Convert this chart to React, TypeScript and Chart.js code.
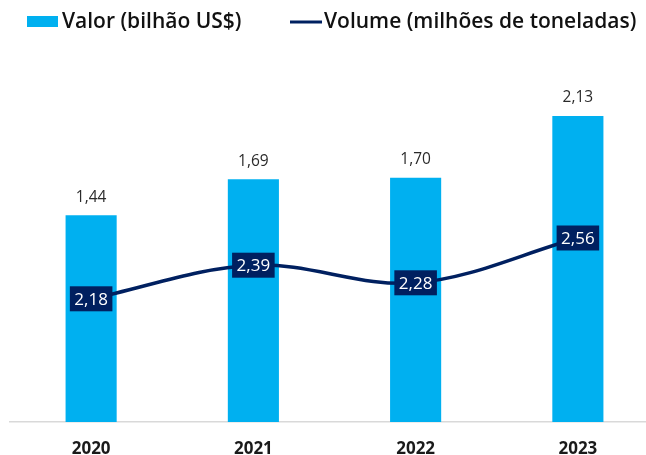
import React, { useEffect, useRef } from "react";
import { Chart, registerables } from "chart.js";
Chart.register(...registerables);

const years = ["2020", "2021", "2022", "2023"];
const valor = [1.44, 1.69, 1.7, 2.13];
const volume = [2.18, 2.39, 2.28, 2.56];
const legendLabels = ["Valor (bilhão US$)", "Volume (milhões de toneladas)"];

const BLUE = "#00B0F0";
const NAVY = "#002060";
const FONT = "'Open Sans', sans-serif";
const fmt = (v: number) => v.toFixed(2).replace(".", ",");

const labelsPlugin = {
  id: "customLabels",
  afterDatasetsDraw(chart: any) {
    const ctx = chart.ctx;
    ctx.save();
    ctx.textAlign = "center";
    ctx.textBaseline = "middle";
    // bar value labels
    ctx.font = `15.5px ${FONT}`;
    ctx.fillStyle = "#2a2a2a";
    chart.getDatasetMeta(0).data.forEach((el: any, i: number) => {
      ctx.fillText(fmt(valor[i]), el.x, el.y - 18);
    });
    // line value labels in boxes
    ctx.font = `17px ${FONT}`;
    chart.getDatasetMeta(1).data.forEach((el: any, i: number) => {
      const t = fmt(volume[i]);
      const w = ctx.measureText(t).width + 9;
      const h = 25;
      ctx.fillStyle = NAVY;
      ctx.fillRect(el.x - w / 2, el.y - h / 2, w, h);
      ctx.fillStyle = "#ffffff";
      ctx.fillText(t, el.x, el.y + 1);
    });
    // legend
    ctx.textAlign = "left";
    ctx.font = `600 21px ${FONT}`;
    ctx.fillStyle = BLUE;
    ctx.fillRect(27, 16, 31, 11);
    ctx.fillStyle = "#111111";
    ctx.fillText(legendLabels[0], 62, 22);
    ctx.strokeStyle = NAVY;
    ctx.lineWidth = 3;
    ctx.beginPath();
    ctx.moveTo(290, 22);
    ctx.lineTo(322, 22);
    ctx.stroke();
    ctx.fillText(legendLabels[1], 324, 22);
    ctx.restore();
  },
};

export default function App() {
  const ref = useRef<HTMLCanvasElement>(null);
  useEffect(() => {
    if (!ref.current) return;
    const chart = new Chart(ref.current, {
      type: "bar",
      data: {
        labels: years,
        datasets: [
          {
            type: "bar",
            label: legendLabels[0],
            data: valor,
            backgroundColor: BLUE,
            yAxisID: "y",
            barPercentage: 0.63,
            categoryPercentage: 0.5,
            order: 1,
          },
          {
            type: "line",
            label: legendLabels[1],
            data: volume,
            borderColor: NAVY,
            backgroundColor: NAVY,
            borderWidth: 3.5,
            pointRadius: 0,
            tension: 0.35,
            yAxisID: "y1",
            order: 0,
          },
        ],
      },
      options: {
        responsive: false,
        animation: false,
        layout: { padding: { left: 10, right: 1, top: 50, bottom: 0 } },
        plugins: { legend: { display: false }, tooltip: { enabled: false } },
        scales: {
          x: {
            grid: { display: false },
            border: { display: true, color: "#d9d9d9", width: 1.5 },
            ticks: {
              color: "#1a1a1a",
              font: { family: "'Open Sans', sans-serif", size: 17, weight: "bold" },
              padding: 9,
            },
            afterFit: (s: any) => {
              s.height = 33;
            },
          },
          y: { display: false, min: 0, max: 2.59 },
          y1: { display: false, min: 1.41, max: 3.735 },
        },
      },
      plugins: [labelsPlugin],
    });
    return () => chart.destroy();
  }, []);
  return (
    <div style={{ position: "absolute", left: 0, top: 0, width: 660, height: 455, background: "#fff" }}>
      <canvas ref={ref} width={660} height={455} />
    </div>
  );
}
